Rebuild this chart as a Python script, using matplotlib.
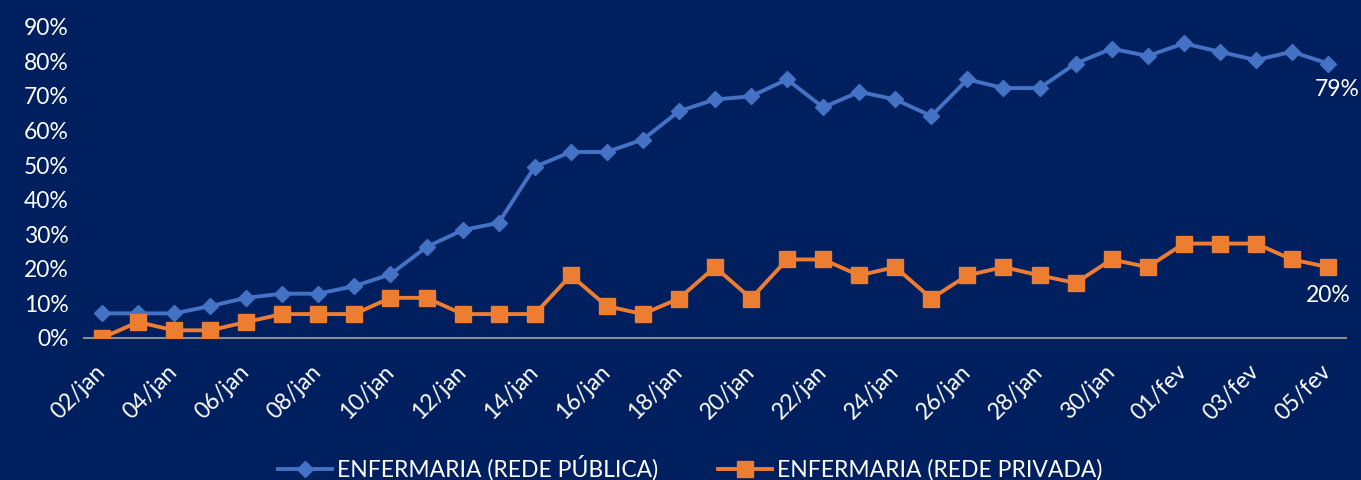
import matplotlib
matplotlib.use("Agg")
import matplotlib.pyplot as plt
import numpy as np

dates = ["02/jan", "03/jan", "04/jan", "05/jan", "06/jan", "07/jan", "08/jan", "09/jan",
         "10/jan", "11/jan", "12/jan", "13/jan", "14/jan", "15/jan", "16/jan", "17/jan",
         "18/jan", "19/jan", "20/jan", "21/jan", "22/jan", "23/jan", "24/jan", "25/jan",
         "26/jan", "27/jan", "28/jan", "29/jan", "30/jan", "31/jan", "01/fev", "02/fev",
         "03/fev", "04/fev", "05/fev"]

publica = [7.1, 7.1, 7.1, 9.2, 11.6, 12.8, 12.8, 15.0, 18.4, 26.3, 31.2, 33.3, 49.5,
           53.8, 53.8, 57.4, 65.6, 69.0, 69.9, 74.8, 66.7, 71.2, 69.0, 64.2, 74.8,
           72.3, 72.3, 79.4, 83.7, 81.6, 85.2, 82.8, 80.4, 82.8, 79.4]

privada = [0.0, 4.6, 2.2, 2.2, 4.6, 6.9, 6.9, 6.9, 11.6, 11.6, 6.9, 6.9, 6.9, 18.1,
           9.2, 6.9, 11.4, 20.5, 11.4, 22.7, 22.7, 18.1, 20.5, 11.4, 18.1, 20.5, 18.1,
           15.9, 22.7, 20.5, 27.3, 27.3, 27.3, 22.7, 20.5]

series_names = ["ENFERMARIA (REDE PÚBLICA)", "ENFERMARIA (REDE PRIVADA)"]
end_labels = ["79%", "20%"]
yticks = [0, 10, 20, 30, 40, 50, 60, 70, 80, 90]

BG = "#001F5E"
BLUE = "#4472C4"
ORANGE = "#ED7D31"
FS = 16.5

plt.rcParams['font.family'] = ['Lato', 'DejaVu Sans']

fig = plt.figure(figsize=(13.61, 4.80), dpi=100, facecolor=BG)
ax = fig.add_axes([0.0617, 0.296, 0.9273, 0.648])
ax.set_facecolor(BG)

x = np.arange(len(dates))
ax.plot(x, publica, color=BLUE, lw=2.8, marker='D', ms=8.5, mec=BLUE, label=series_names[0])
ax.plot(x, privada, color=ORANGE, lw=2.8, marker='s', ms=12, mec=ORANGE, label=series_names[1])

ax.set_xlim(-0.5, len(dates) - 0.5)
ax.set_ylim(0, 90)
ax.set_yticks(yticks)
ax.set_yticklabels([f"{v}%" for v in yticks], color="white", fontsize=FS)

ax.set_xticks(x[::2])
ax.set_xticklabels(dates[::2], rotation=45, ha='right', va='center',
                   rotation_mode='anchor', color="white", fontsize=FS)
ax.tick_params(axis='both', length=0)
ax.tick_params(axis='x', pad=22)
ax.tick_params(axis='y', pad=11)

for s in ['top', 'right', 'left']:
    ax.spines[s].set_visible(False)
ax.spines['bottom'].set_color("#8C8C8C")
ax.spines['bottom'].set_linewidth(1.5)
ax.spines['bottom'].set_zorder(0)

ax.annotate(end_labels[0], (x[-1], publica[-1]), xytext=(9, -26), textcoords='offset pixels',
            ha='center', va='center', color='white', fontsize=FS)
ax.annotate(end_labels[1], (x[-1], privada[-1]), xytext=(0, -28), textcoords='offset pixels',
            ha='center', va='center', color='white', fontsize=FS)

leg = fig.legend(loc='center', bbox_to_anchor=(0.507, 0.025), ncol=2, frameon=False,
                 fontsize=FS, handlelength=2.35, columnspacing=2.6, handletextpad=0.22)
for t in leg.get_texts():
    t.set_color('white')

fig.savefig("out.png", dpi=100, facecolor=BG)
